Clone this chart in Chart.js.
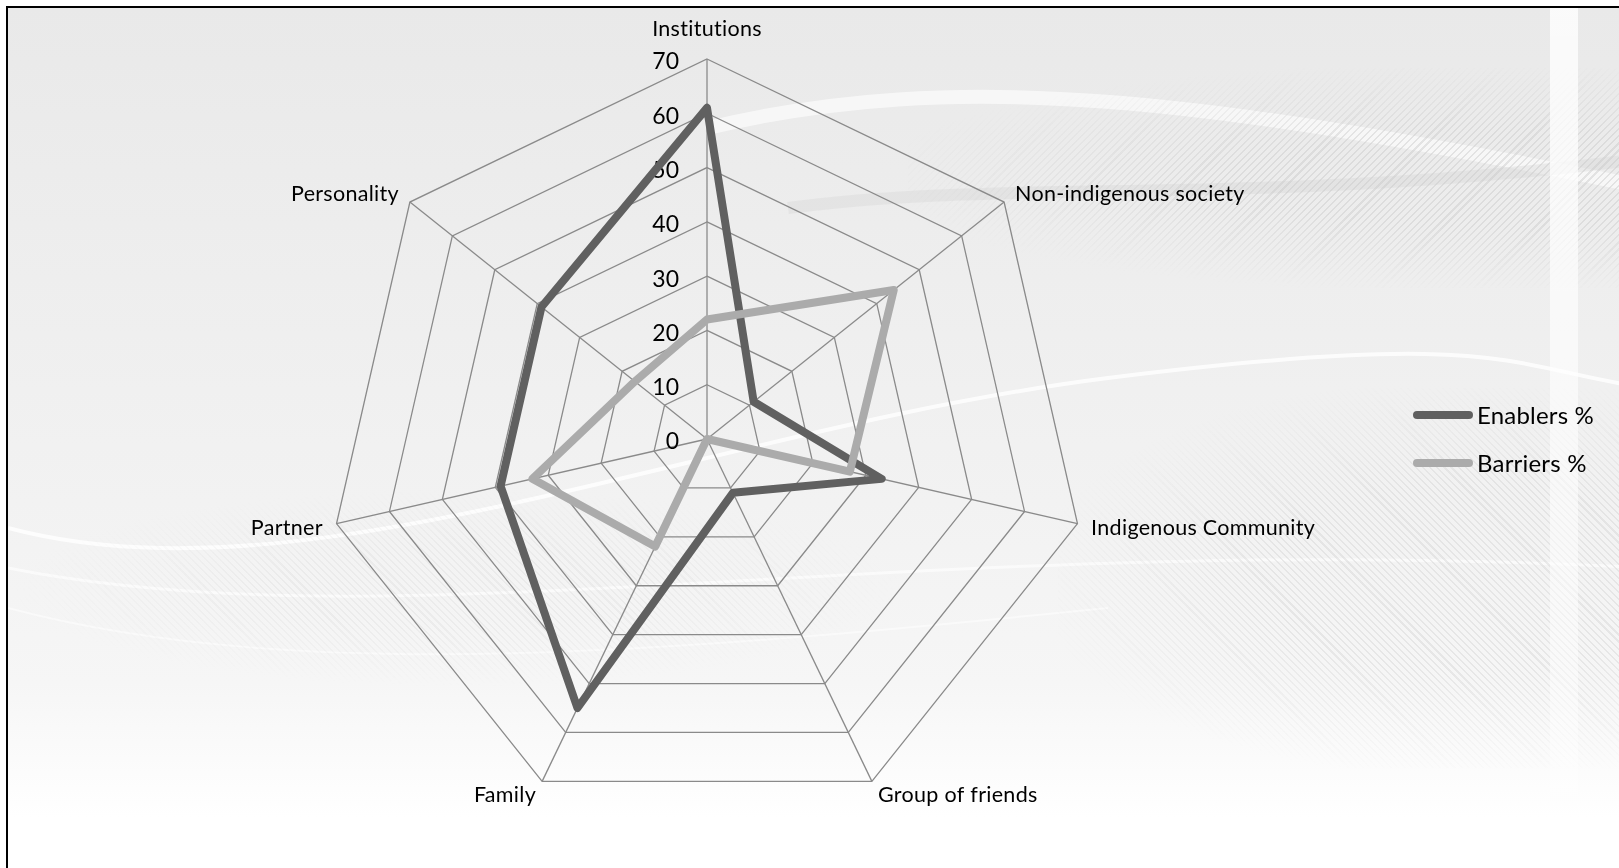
<!DOCTYPE html>
<html>
<head>
<meta charset="utf-8">
<script src="https://cdn.jsdelivr.net/npm/chart.js@4.4.0/dist/chart.umd.min.js"></script>
<style>
    html, body { margin: 0; padding: 0; background: #fff; }
    body { width: 1619px; height: 868px; overflow: hidden; position: relative; font-family: Lato, sans-serif; }
    #frame {
        position: absolute; left: 6px; top: 6px; width: 1640px; height: 900px;
        border-left: 2px solid #000; border-top: 2px solid #000; overflow: hidden;
        background: linear-gradient(180deg, #e9e9e9 0%, #eeeeee 30%, #f2f2f2 55%, #f6f6f6 75%, #ffffff 90%);
    }
    .hatch {
        position: absolute;
        background: repeating-linear-gradient(135deg, rgba(200,200,200,0.55) 0 1.5px, transparent 1.5px 5px);
    }
    .stripe { position: absolute; left: 1542px; top: 0; width: 28px; height: 790px;
        background: linear-gradient(180deg, rgba(255,255,255,0.8), rgba(255,255,255,0.4)); }
    #chart { position: absolute; left: 0; top: 0; }
    #legend { position: absolute; left: 1413px; top: 0; }
    .item { position: absolute; left: 0; height: 30px; white-space: nowrap; }
    .sw { position: absolute; left: 0; top: 11px; width: 60px; height: 8px; border-radius: 4px; }
    .txt { position: absolute; left: 64px; top: 0; line-height: 30px; font-size: 24px; color: #000;
        font-family: Lato, sans-serif; letter-spacing: 0.2px; }
</style>
</head>
<body>
<div id="frame">
    <svg width="1640" height="900" style="position:absolute;left:0;top:0">
        <path d="M 700 120 C 950 60, 1200 90, 1640 180" stroke="rgba(255,255,255,0.6)" stroke-width="14" fill="none"/>
        <path d="M 780 200 C 1000 170, 1250 200, 1640 150" stroke="rgba(215,215,215,0.4)" stroke-width="12" fill="none"/>
        <path d="M 0 520 C 300 600, 700 420, 1100 370 S 1500 360, 1640 380" stroke="rgba(255,255,255,0.8)" stroke-width="4" fill="none"/>
        <path d="M 0 560 C 400 640, 900 520, 1640 560" stroke="rgba(255,255,255,0.6)" stroke-width="3" fill="none"/>
        <path d="M 0 600 C 300 680, 700 640, 1100 600" stroke="rgba(255,255,255,0.5)" stroke-width="2" fill="none"/>
    </svg>
    <div class="hatch" style="left:900px;top:60px;width:740px;height:220px;opacity:0.8;
        -webkit-mask-image:radial-gradient(ellipse at 80% 50%, #000 30%, transparent 75%);"></div>
    <div class="hatch" style="left:1050px;top:380px;width:600px;height:380px;opacity:0.6;
        background:repeating-linear-gradient(45deg, rgba(200,200,200,0.55) 0 1.5px, transparent 1.5px 5px);
        -webkit-mask-image:radial-gradient(ellipse at 70% 50%, #000 35%, transparent 75%);"></div>
    <div class="hatch" style="left:0px;top:480px;width:900px;height:200px;opacity:0.35;
        background:repeating-linear-gradient(45deg, rgba(200,200,200,0.55) 0 1.5px, transparent 1.5px 5px);
        -webkit-mask-image:radial-gradient(ellipse at 50% 50%, #000 30%, transparent 70%);"></div>
    <div class="stripe"></div>
</div>
<canvas id="chart" width="1619" height="868"></canvas>
<div id="legend"></div>

<script>
// ====== Data ======
const categories = ['Institutions', 'Non-indigenous society', 'Indigenous Community', 'Group of friends', 'Family', 'Partner', 'Personality'];
const enablers = [61, 11, 33, 11, 55, 39, 39];
const barriers = [22, 44, 27, 0, 22, 33, 17];
const seriesNames = ['Enablers %', 'Barriers %'];
const seriesColors = ['#606060', '#ababab'];
const tickValues = [0, 10, 20, 30, 40, 50, 60, 70];

// ====== Labels drawn next to the axes ======
const axisText = {
    id: 'axisText',
    beforeDatasetsDraw(chart) {
        const r = chart.scales.r;
        const ctx = chart.ctx;
        ctx.save();
        ctx.font = '23px Lato';
        ctx.fillStyle = '#000';
        ctx.textAlign = 'right';
        ctx.textBaseline = 'middle';
        r.ticks.forEach(t => {
            const y = r.yCenter - r.getDistanceFromCenterForValue(t.value);
            ctx.fillText(String(t.value), r.xCenter - 28, y + 3);
        });
        ctx.restore();
    },
    afterDraw(chart) {
        const r = chart.scales.r;
        const ctx = chart.ctx;
        ctx.save();
        ctx.font = '21.5px Lato';
        ctx.letterSpacing = '0.3px';
        ctx.fillStyle = '#000';
        ctx.textBaseline = 'middle';
        categories.forEach((c, i) => {
            const p = r.getPointPosition(i, r.drawingArea + 14);
            const deg = (r.getIndexAngle(i) * 180 / Math.PI) % 360;
            let align = 'center';
            let y = p.y + 1;
            if (deg > 1 && deg < 179) align = 'left';
            else if (deg > 181 && deg < 359) align = 'right';
            else y -= 17;
            ctx.textAlign = align;
            ctx.fillText(c, p.x, y);
        });
        ctx.restore();
    }
};

const chart = new Chart(document.getElementById('chart'), {
    type: 'radar',
    data: {
        labels: categories,
        datasets: [
            { label: seriesNames[0], data: enablers, borderColor: seriesColors[0], borderWidth: 8, order: 2 },
            { label: seriesNames[1], data: barriers, borderColor: seriesColors[1], borderWidth: 8, order: 1 }
        ].map(d => Object.assign(d, {
            fill: false, backgroundColor: 'transparent', pointRadius: 0, pointHoverRadius: 0,
            borderJoinStyle: 'round', tension: 0
        }))
    },
    plugins: [axisText],
    options: {
        responsive: false,
        animation: false,
        layout: { padding: { left: 327, top: 59, right: 532, bottom: 49 } },
        plugins: { legend: { display: false }, tooltip: { enabled: false } },
        scales: {
            r: {
                min: 0, max: 70,
                afterBuildTicks: s => { s.ticks = tickValues.map(v => ({ value: v })); },
                ticks: { display: false, stepSize: 10 },
                grid: { color: '#8a8a8a', lineWidth: 1.3 },
                angleLines: { color: '#8a8a8a', lineWidth: 1.3 },
                pointLabels: { display: false }
            }
        }
    }
});

// ====== Legend ======
const legend = document.getElementById('legend');
const legendY = [400, 448];
seriesNames.forEach((name, i) => {
    const item = document.createElement('div');
    item.className = 'item';
    item.style.top = legendY[i] + 'px';
    item.innerHTML = `<span class="sw" style="background:${seriesColors[i]}"></span><span class="txt">${name}</span>`;
    legend.appendChild(item);
});
</script>
</body>
</html>
